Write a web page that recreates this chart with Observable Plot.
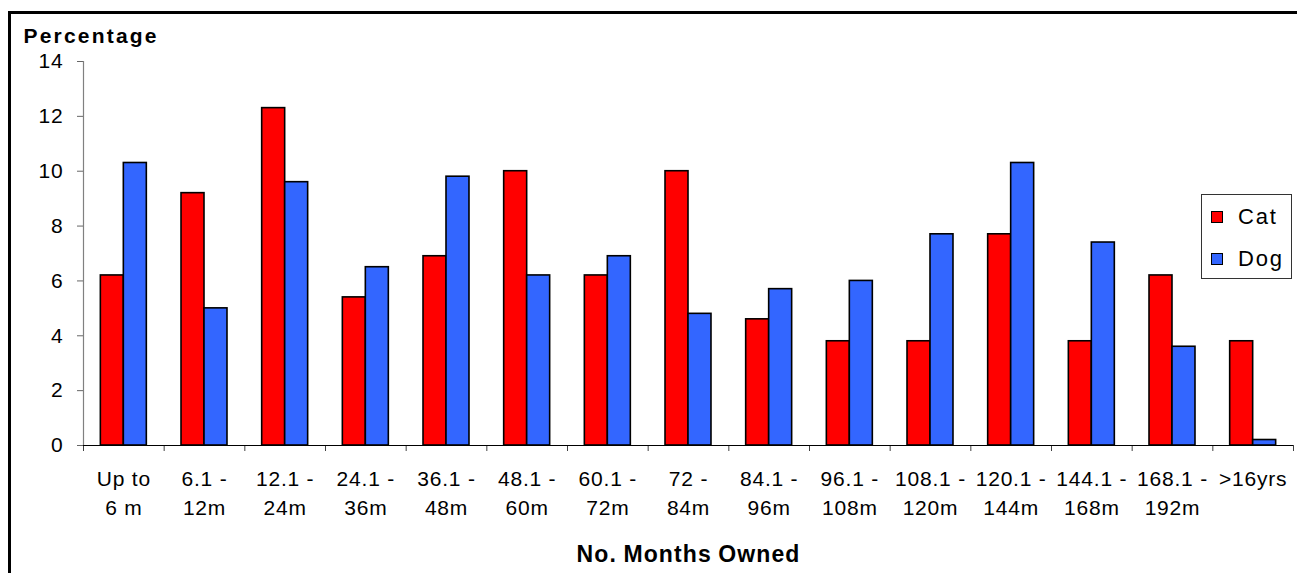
<!DOCTYPE html>
<html>
<head>
<meta charset="utf-8">
<script src="https://cdn.jsdelivr.net/npm/d3@7"></script>
<script src="https://cdn.jsdelivr.net/npm/@observablehq/plot@0.6"></script>
<style>
  html, body { margin: 0; padding: 0; background: #fff; overflow: hidden; }
  #wrap { position: relative; width: 1297px; height: 573px; font-family: "Liberation Sans", Arial, sans-serif; }
  #wrap svg { position: absolute; left: 0; top: 0; }
  #wrap svg text { letter-spacing: 0.8px; }
  #wrap svg text.wide { letter-spacing: 2.2px; }
  #wrap svg text.tight { letter-spacing: 1.1px; word-spacing: -1px; }
  #frame { position: absolute; left: 8px; top: 11px; width: 1400px; height: 700px;
           border-left: 3px solid #000; border-top: 3px solid #000; pointer-events: none; }
  #legend { position: absolute; left: 1201px; top: 194px; width: 89px; height: 83px;
            border: 1px solid #333; background: #fff; }
  #legend .item { position: absolute; left: 9px; height: 26px; display: flex; align-items: center;
                  font-size: 22px; letter-spacing: 1.8px; color: #000; }
  #legend .sw { width: 10px; height: 10px; border: 1px solid #000; margin-right: 15px; }
</style>
</head>
<body>
<div id="wrap">
  <div id="frame"></div>
</div>
<script>
// Months a pet has been owned, percentage of cats and dogs in each band
const categories = [
  "Up to\n6 m", "6.1 -\n12m", "12.1 -\n24m", "24.1 -\n36m", "36.1 -\n48m",
  "48.1 -\n60m", "60.1 -\n72m", "72 -\n84m", "84.1 -\n96m", "96.1 -\n108m",
  "108.1 -\n120m", "120.1 -\n144m", "144.1 -\n168m", "168.1 -\n192m", ">16yrs"
];
const catValues = [6.2, 9.2, 12.3, 5.4, 6.9, 10.0, 6.2, 10.0, 4.6, 3.8, 3.8, 7.7, 3.8, 6.2, 3.8];
const dogValues = [10.3, 5.0, 9.6, 6.5, 9.8, 6.2, 6.9, 4.8, 5.7, 6.0, 7.7, 10.3, 7.4, 3.6, 0.2];
const seriesNames = ["Cat", "Dog"];
const seriesColors = ["#ff0000", "#3366ff"];
const yTicks = [0, 2, 4, 6, 8, 10, 12, 14];

const rows = categories.map((c, i) => ({category: c, cat: catValues[i], dog: dogValues[i]}));

const width = 1297, height = 573;
const marginLeft = 83, marginRight = 4, marginTop = 61, marginBottom = 128;
const paddingInner = 0.43;
const step = (width - marginLeft - marginRight) / categories.length;
const half = step * (1 - paddingInner) / 2;

const font = `"Liberation Sans", Arial, sans-serif`;

const chart = Plot.plot({
  width, height, marginLeft, marginRight, marginTop, marginBottom,
  style: {fontFamily: font, background: "transparent", overflow: "visible"},
  x: {type: "band", domain: categories, paddingInner, paddingOuter: paddingInner / 2, round: false},
  y: {domain: [0, 14]},
  marks: [
    // value axis ticks and labels
    Plot.axisY(yTicks, {tickSize: 6, tickPadding: 14, fontSize: 21, stroke: "#666", fill: "#000", label: null}),
    // gray spine along the left edge of the plot area
    Plot.ruleX(categories.slice(0, 1), {dx: -step / 2, y1: 0, y2: 14, stroke: "#808080", strokeWidth: 1.2}),
    // category labels
    Plot.axisX({tickSize: 0, tickPadding: 20, fontSize: 21, lineHeight: 1.38, fill: "#000", label: null}),
    // separators between categories
    Plot.axisX(categories, {tickSize: 6, dx: -step / 2, tickFormat: () => "", stroke: "#404040", label: null}),
    Plot.axisX(categories.slice(-1), {tickSize: 6, dx: step / 2, tickFormat: () => "", stroke: "#404040", label: null}),
    Plot.barY(rows, {x: "category", y: "cat", fill: seriesColors[0], stroke: "#000", strokeWidth: 1.6, insetRight: half}),
    Plot.barY(rows, {x: "category", y: "dog", fill: seriesColors[1], stroke: "#000", strokeWidth: 1.6, insetLeft: half}),
    Plot.ruleY([0], {stroke: "#000", strokeWidth: 1.2}),
    Plot.text(["Percentage"], {frameAnchor: "top-left", textAnchor: "start", lineAnchor: "bottom",
      dx: -60, dy: -19, fontSize: 21, fontWeight: "bold", fill: "#000", className: "wide"}),
    Plot.text(["No. Months Owned"], {frameAnchor: "bottom", textAnchor: "middle", lineAnchor: "bottom",
      dy: 116, fontSize: 23, fontWeight: "bold", fill: "#000", className: "tight"})
  ]
});

const wrap = document.getElementById("wrap");
wrap.insertBefore(chart, wrap.firstChild);

// class names go on the mark's group; pass them to its text
chart.querySelectorAll("g.wide text, g.tight text").forEach(t => t.setAttribute("class", t.parentNode.getAttribute("class")));

// legend box
const legend = document.createElement("div");
legend.id = "legend";
seriesNames.forEach((name, i) => {
  const item = document.createElement("div");
  item.className = "item";
  item.style.top = (9 + i * 42) + "px";
  const sw = document.createElement("span");
  sw.className = "sw";
  sw.style.background = seriesColors[i];
  const label = document.createElement("span");
  label.textContent = name;
  item.append(sw, label);
  legend.append(item);
});
wrap.append(legend);
</script>
</body>
</html>
